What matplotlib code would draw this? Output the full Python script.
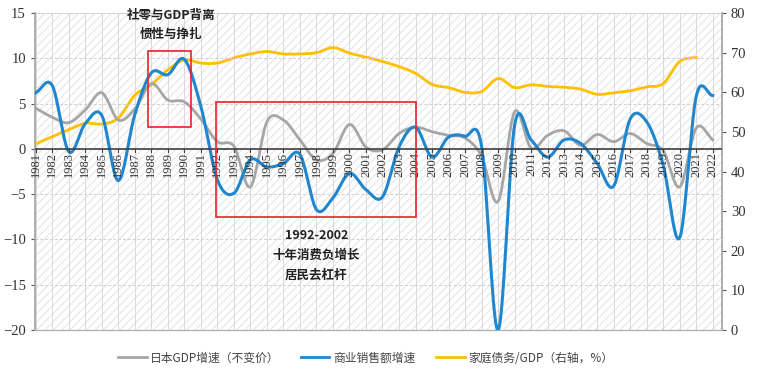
import numpy as np
import matplotlib
matplotlib.use("Agg")
import matplotlib.pyplot as plt
from matplotlib.patches import Rectangle
from matplotlib.lines import Line2D

plt.rcParams['font.family'] = ['Noto Sans CJK SC', 'DejaVu Sans']
plt.rcParams['hatch.color'] = '#e4e4e4'
plt.rcParams['hatch.linewidth'] = 0.8

years = [str(y) for y in range(1981, 2023)]

# 日本GDP增速（不变价）
gdp = [4.5, 3.5, 2.9, 4.3, 6.2, 3.2, 4.4, 7.2, 5.4, 5.2,
       3.3, 0.8, 0.3, -4.2, 3.0, 3.2, 1.0, -1.2, -0.5, 2.7,
       0.2, -0.1, 1.7, 2.4, 1.9, 1.5, 1.2, -0.8, -5.8, 4.1,
       0.1, 1.5, 2.0, 0.4, 1.6, 0.8, 1.7, 0.6, -0.2, -4.2,
       2.3, 1.0]
# 商业销售额增速
sales = [6.2, 7.0, -0.3, 2.8, 3.7, -3.5, 3.8, 8.4, 8.2, 9.9,
         4.7, -3.4, -4.9, -1.2, -2.0, -1.6, -0.6, -6.7, -5.4, -2.7,
         -4.5, -5.3, 0.2, 2.4, -0.9, 1.3, 1.4, 0.3, -20.0, 2.6,
         1.0, -0.9, 1.0, 0.6, -1.6, -4.1, 3.3, 3.0, -1.8, -9.8,
         5.8, 5.9]
# 家庭债务/GDP（右轴，%）
debt = [47.0, 48.8, 50.6, 52.2, 52.0, 53.5, 59.3, 61.9, 65.7, 68.2,
        67.4, 67.4, 68.7, 69.7, 70.3, 69.7, 69.7, 70.0, 71.3, 69.9,
        68.9, 67.8, 66.5, 64.8, 62.0, 61.2, 60.0, 60.2, 63.5, 61.2,
        61.9, 61.5, 61.3, 60.8, 59.5, 59.9, 60.4, 61.4, 62.2, 67.8,
        68.8]


def smooth(vals, n=20):
    # Catmull-Rom curve through the points, like Excel's smoothed line
    y = np.asarray(vals, dtype=float)
    x = np.arange(len(y), dtype=float)
    px = np.concatenate([[2 * x[0] - x[1]], x, [2 * x[-1] - x[-2]]])
    py = np.concatenate([[2 * y[0] - y[1]], y, [2 * y[-1] - y[-2]]])
    xs, ys = [], []
    t = np.linspace(0, 1, n, endpoint=False)
    for i in range(1, len(px) - 2):
        for p, out in ((px, xs), (py, ys)):
            p0, p1, p2, p3 = p[i - 1], p[i], p[i + 1], p[i + 2]
            out.append(0.5 * (2 * p1 + (-p0 + p2) * t
                              + (2 * p0 - 5 * p1 + 4 * p2 - p3) * t ** 2
                              + (-p0 + 3 * p1 - 3 * p2 + p3) * t ** 3))
    xs.append([x[-1]])
    ys.append([y[-1]])
    return np.concatenate(xs), np.concatenate(ys)


fig = plt.figure(figsize=(7.59, 3.75), dpi=100)
ax = fig.add_axes([0.046, 0.12, 0.905, 0.845])
ax2 = ax.twinx()
ax.set_zorder(ax2.get_zorder() + 1)
ax.patch.set_visible(False)

x = np.arange(len(years))
ax.set_xlim(-0.05, 41.55)
ax.set_ylim(-20, 15)
ax2.set_ylim(0, 80)

# hatched background + grid (drawn on the back axis)
ax2.add_patch(Rectangle((0, 0), 1, 1, transform=ax2.transAxes, facecolor='white',
                        hatch='////', edgecolor='#e6e6e6', linewidth=0, zorder=0))
for xi in x:
    ax2.axvline(xi, color='#d9d9d9', lw=0.7, zorder=1)
for yv in range(-15, 15, 5):
    ax.axhline(yv, color='#d0d0d0', lw=0.7, ls=(0, (3, 2)), zorder=1)
ax.axhline(15, color='#d0d0d0', lw=0.7, zorder=1)

gx, gy = smooth(gdp)
sx, sy = smooth(sales)
dx, dy = smooth(debt)
ax.plot(gx, gy, color='#a6a6a6', lw=2.0, zorder=3)
ax.plot(sx, sy, color='#1f86d0', lw=2.2, zorder=5)
ax2.plot(dx, dy, color='#ffc000', lw=2.0, zorder=4)

ax.axhline(0, color='#404040', lw=1.2, zorder=6)

# category labels hanging under the zero line
ax.set_xticks([])
for xi, lab in zip(x, years):
    ax.plot([xi, xi], [0, -0.35], color='#404040', lw=0.8, zorder=6)
    ax.text(xi, -0.3, lab, rotation=90, ha='center', va='top', fontsize=9,
            family='Liberation Serif', color='#333333', zorder=6)

ax.set_yticks(range(-20, 16, 5))
ax2.set_yticks(range(0, 81, 10))
for a in (ax, ax2):
    a.tick_params(axis='y', labelsize=10.5, colors='#555555', length=3,
                  labelcolor='#333333', labelfontfamily='Liberation Serif')
    for s in a.spines.values():
        s.set_color('#a0a0a0')
    a.spines['top'].set_visible(False)
ax.spines['right'].set_visible(False)
ax2.spines['left'].set_visible(False)
ax.spines['left'].set_linewidth(1.2)
ax2.spines['right'].set_linewidth(1.2)
ax.spines['bottom'].set_color('#b0b0b0')

# annotations
ax.add_patch(Rectangle((6.8, 2.4), 2.6, 8.4, fill=False, edgecolor='#e8242a', lw=1.2, zorder=7))
ax.add_patch(Rectangle((10.9, -7.5), 12.1, 12.7, fill=False, edgecolor='#e8242a', lw=1.2, zorder=7))
ax.text(8.2, 14.7, '社零与GDP背离', ha='center', va='center', fontsize=9, fontweight='bold', color='#222222', zorder=8)
ax.text(8.2, 12.6, '惯性与挣扎', ha='center', va='center', fontsize=9, fontweight='bold', color='#222222', zorder=8)
ax.text(17.0, -9.6, '1992-2002', ha='center', va='center', fontsize=9, fontweight='bold', color='#222222', zorder=8)
ax.text(17.0, -11.8, '十年消费负增长', ha='center', va='center', fontsize=9, fontweight='bold', color='#222222', zorder=8)
ax.text(17.0, -14.0, '居民去杠杆', ha='center', va='center', fontsize=9, fontweight='bold', color='#222222', zorder=8)

handles = [Line2D([], [], color='#a6a6a6', lw=2),
           Line2D([], [], color='#1f86d0', lw=2),
           Line2D([], [], color='#ffc000', lw=2)]
labels = ['日本GDP增速（不变价）', '商业销售额增速', '家庭债务/GDP（右轴，%）']
fig.legend(handles, labels, loc='center', bbox_to_anchor=(0.482, 0.045), ncol=3,
           frameon=False, fontsize=8.5, handlelength=2.4, handletextpad=0.3,
           columnspacing=1.8, labelcolor='#444444')

fig.savefig('out.png', dpi=100)
